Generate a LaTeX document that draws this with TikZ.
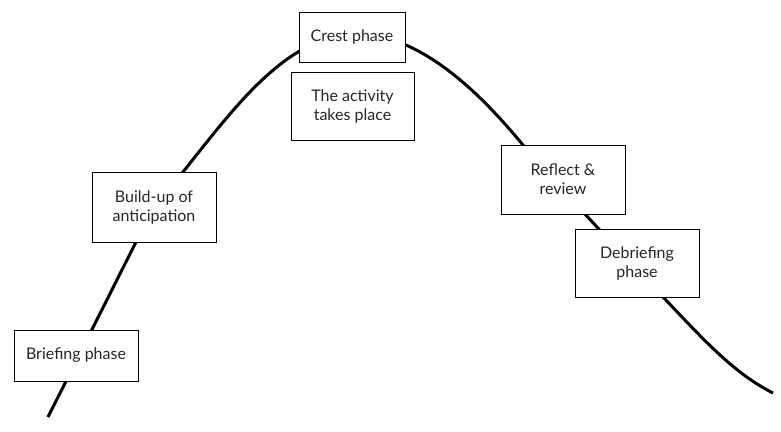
\documentclass[tikz,border=0pt]{standalone}
\usepackage{fontspec}
\setmainfont{Lato}
\begin{document}
\begin{tikzpicture}[x=1pt,y=-1pt,
  phasebox/.style={draw=black, line width=1pt, fill=white, inner sep=0pt,
    align=center, font=\fontsize{16}{19}\selectfont, text=black!85},
  wave/.style={line width=3pt, line cap=butt, line join=round}]
\useasboundingbox (0,0) rectangle (781,431);
\coordinate (s) at (48,417);
\coordinate (e) at (773,393);
\draw[wave] (s) -- (136,242)
  .. controls (148.5,217) and (165.5,193.9) .. (183,172)
  .. controls (233,109.5) and (287,34) .. (357,34)
  .. controls (427,34) and (491,106.6) .. (523,145)
  .. controls (553,181) and (630.6,263) .. (663,297)
  .. controls (701,336.8) and (732.8,372.9) .. (e);
\node[phasebox, minimum width=124pt, minimum height=51pt] (brief) at (76,355.5) {Briefing phase};
\node[phasebox, minimum width=124pt, minimum height=70pt] (build) at (154,207) {Build-up of\\anticipation};
\node[phasebox, minimum width=106pt, minimum height=50pt] (crest) at (352,37) {Crest phase};
\node[phasebox, minimum width=123pt, minimum height=68pt] (act) at (352.5,106) {The activity\\takes place};
\node[phasebox, minimum width=124pt, minimum height=69pt] (refl) at (563,179.5) {Reflect \&\\review};
\node[phasebox, minimum width=124pt, minimum height=68pt] (debrief) at (637,263) {Debriefing\\phase};
\end{tikzpicture}
\end{document}
